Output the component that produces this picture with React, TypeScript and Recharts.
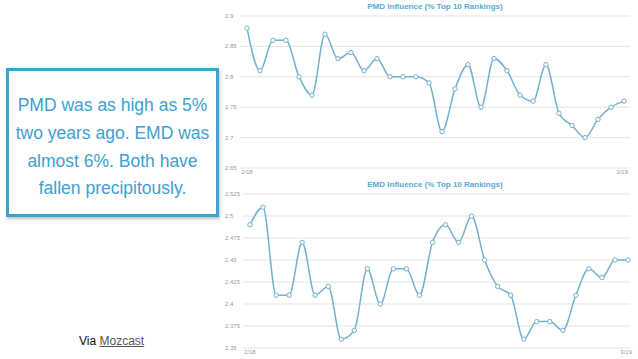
import React from "react";
import { LineChart, Line, XAxis, YAxis, CartesianGrid } from "recharts";

// 2/18 .. 3/19, one point per day
const dates = [
  "2/18", "2/19", "2/20", "2/21", "2/22", "2/23", "2/24", "2/25", "2/26", "2/27", "2/28",
  "3/1", "3/2", "3/3", "3/4", "3/5", "3/6", "3/7", "3/8", "3/9", "3/10",
  "3/11", "3/12", "3/13", "3/14", "3/15", "3/16", "3/17", "3/18", "3/19",
];

const pmdValues = [
  2.88, 2.81, 2.86, 2.86, 2.8, 2.77, 2.87, 2.83, 2.84, 2.81,
  2.83, 2.8, 2.8, 2.8, 2.79, 2.71, 2.78, 2.82, 2.75, 2.83,
  2.81, 2.77, 2.76, 2.82, 2.74, 2.72, 2.7, 2.73, 2.75, 2.76,
];

const emdValues = [
  2.49, 2.51, 2.41, 2.41, 2.47, 2.41, 2.42, 2.36, 2.37, 2.44,
  2.4, 2.44, 2.44, 2.41, 2.47, 2.49, 2.47, 2.5, 2.45, 2.42,
  2.41, 2.36, 2.38, 2.38, 2.37, 2.41, 2.44, 2.43, 2.45, 2.45,
];

const pmdTicks = [2.65, 2.7, 2.75, 2.8, 2.85, 2.9];
const emdTicks = [2.35, 2.375, 2.4, 2.425, 2.45, 2.475, 2.5, 2.525];
const dateTicks = ["2/18", "3/19"];

const LINE = "#72b1cf";
const TITLE = "#55abd6";
const LABEL = "#9a9a9a";
const GRID = "#e3e3e3";
const FONT = "'Liberation Sans', Arial, sans-serif";

function YTick({ y, payload }: any) {
  return (
    <text x={25} y={y} dy={2} fontSize={6} fill={LABEL} fontFamily={FONT} textAnchor="start">
      {String(payload.value)}
    </text>
  );
}

function XTick({ x, y, payload }: any) {
  const first = payload.value === dates[0];
  return (
    <text
      x={first ? x - 6 : x + 4}
      y={y}
      dy={-2}
      fontSize={6}
      fill={LABEL}
      fontFamily={FONT}
      textAnchor={first ? "start" : "end"}
    >
      {payload.value}
    </text>
  );
}

interface PanelProps {
  title: string;
  values: number[];
  ticks: number[];
  top: number;
  height: number;
  yWidth: number;
  padRight: number;
}

function Panel({ title, values, ticks, top, height, yWidth, padRight }: PanelProps) {
  const data = dates.map((d, i) => ({ date: d, value: values[i] }));
  return (
    <div style={{ position: "absolute", left: 200, top, width: 438, height }}>
      <div
        style={{
          position: "absolute",
          left: 40,
          width: 390,
          top: 2,
          textAlign: "center",
          fontFamily: FONT,
          fontSize: 8,
          fontWeight: 700,
          color: TITLE,
        }}
      >
        {title}
      </div>
      <LineChart width={438} height={height} data={data} margin={{ top: 16, right: 8, left: 0, bottom: 0 }}>
        <CartesianGrid horizontal vertical={false} stroke={GRID} />
        <XAxis
          dataKey="date"
          ticks={dateTicks}
          interval={0}
          axisLine={false}
          tickLine={false}
          height={12}
          padding={{ left: 7, right: padRight }}
          tick={<XTick />}
        />
        <YAxis
          domain={[ticks[0], ticks[ticks.length - 1]]}
          ticks={ticks}
          interval={0}
          axisLine={false}
          tickLine={false}
          width={yWidth}
          tick={<YTick />}
        />
        <Line
          type="monotone"
          dataKey="value"
          stroke={LINE}
          strokeWidth={1.5}
          dot={{ r: 2.2, fill: "#fff", stroke: LINE, strokeWidth: 1 }}
          isAnimationActive={false}
        />
      </LineChart>
    </div>
  );
}

export default function App() {
  return (
    <div
      style={{
        position: "absolute",
        left: 0,
        top: 0,
        width: 638,
        height: 359,
        background: "#fff",
        overflow: "hidden",
      }}
    >
      <Panel
        title="PMD Influence (% Top 10 Rankings)"
        values={pmdValues}
        ticks={pmdTicks}
        top={0}
        height={180}
        yWidth={40}
        padRight={6}
      />
      <Panel
        title="EMD Influence (% Top 10 Rankings)"
        values={emdValues}
        ticks={emdTicks}
        top={178}
        height={182}
        yWidth={43}
        padRight={2}
      />
      <div
        style={{
          position: "absolute",
          left: 6,
          top: 68,
          width: 207,
          height: 143,
          border: "3px solid #3ba3d3",
          boxShadow: "1px 2px 3px rgba(0,0,0,0.25)",
          display: "flex",
          alignItems: "center",
          justifyContent: "center",
          textAlign: "center",
          fontFamily: FONT,
          fontSize: 17.5,
          lineHeight: "27.7px",
          color: "#3e9fd2",
          boxSizing: "content-box",
        }}
      >
        <div style={{ marginTop: 10 }}>
          PMD was as high as 5%
          <br />
          two years ago. EMD was
          <br />
          almost 6%. Both have
          <br />
          fallen precipitously.
        </div>
      </div>
      <div
        style={{
          position: "absolute",
          left: 79,
          top: 334,
          fontFamily: FONT,
          fontSize: 12,
          color: "#111",
        }}
      >
        Via <span style={{ color: "#555", textDecoration: "underline" }}>Mozcast</span>
      </div>
    </div>
  );
}
